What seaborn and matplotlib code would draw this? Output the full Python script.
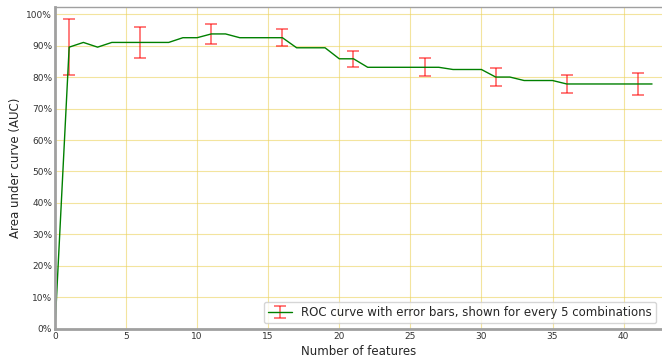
import numpy as np
import matplotlib
matplotlib.use('Agg')
import matplotlib.pyplot as plt
import seaborn as sns
from matplotlib.ticker import PercentFormatter

# number of features and mean AUC per feature count
n_features = list(range(0, 43))
auc = [0.0, 0.895, 0.910, 0.895, 0.910, 0.910, 0.910, 0.910, 0.910, 0.925,
       0.925, 0.937, 0.937, 0.925, 0.925, 0.925, 0.925, 0.893, 0.893, 0.893,
       0.858, 0.858, 0.831, 0.831, 0.831, 0.831, 0.831, 0.831, 0.824, 0.824,
       0.824, 0.800, 0.800, 0.789, 0.789, 0.789, 0.778, 0.778, 0.778, 0.778,
       0.778, 0.778, 0.778]

# error bars only shown for every 5 combinations
err_features = [1, 6, 11, 16, 21, 26, 31, 36, 41]
err_centers = [0.893, 0.908, 0.936, 0.925, 0.857, 0.830, 0.799, 0.777, 0.778]
err_sizes = [0.090, 0.049, 0.032, 0.027, 0.025, 0.029, 0.029, 0.030, 0.034]

sns.set_style("white")
plt.rcParams['font.family'] = ['DejaVu Sans']

fig = plt.figure(figsize=(6.62, 3.59), dpi=100)
ax = fig.add_axes([0.083, 0.084, 0.917, 0.896])

yerr = np.zeros(len(n_features))
for f, s in zip(err_features, err_sizes):
    yerr[n_features.index(f)] = s

ax.errorbar(n_features, auc, yerr=yerr, errorevery=(1, 5),
            color='green', linewidth=1, ecolor=(1, 0, 0, 0.6),
            elinewidth=1.2, capsize=4, capthick=1.2,
            label='ROC curve with error bars, shown for every 5 combinations')

ax.set_xlim(0, 42.7)
ax.set_ylim(0, 1.022)
ax.set_xticks(range(0, 45, 5))
ax.set_yticks(np.arange(0, 1.01, 0.1))
ax.yaxis.set_major_formatter(PercentFormatter(1.0, decimals=0))
ax.tick_params(labelsize=6.5, length=0, pad=2, colors='#333333')
ax.grid(True, color='#ecd35e', alpha=0.6, linewidth=0.8)

ax.set_xlabel('Number of features', fontsize=8.5, labelpad=3)
ax.set_ylabel('Area under curve (AUC)', fontsize=8.5, labelpad=3)

for side in ['left', 'bottom']:
    ax.spines[side].set_color('#a0a0a0')
    ax.spines[side].set_linewidth(2)
ax.spines['top'].set_color('#a0a0a0')
ax.spines['top'].set_linewidth(1)
ax.spines['right'].set_visible(False)

ax.legend(loc='lower right', fontsize=8.5, frameon=True, borderpad=0.35,
          handlelength=2)

plt.savefig('out.png', dpi=100)
plt.close()
